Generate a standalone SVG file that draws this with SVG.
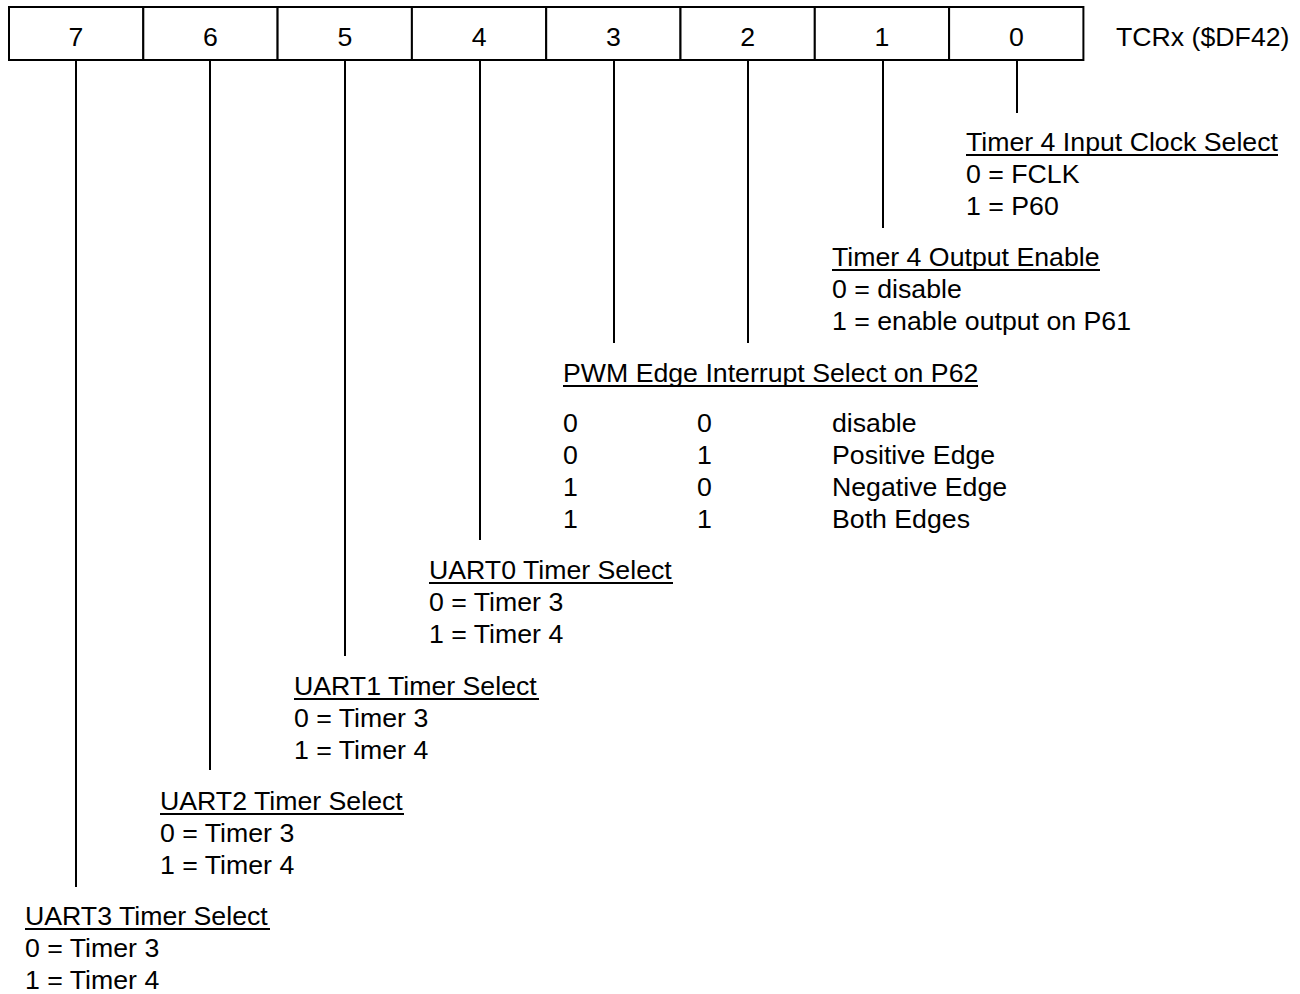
<svg xmlns="http://www.w3.org/2000/svg" width="1300" height="994" viewBox="0 0 1300 994">
<style>
text { font-family: "Liberation Sans", Arial, sans-serif; font-size: 26.7px; fill: #000; }
.c { text-anchor: middle; }
.cell { fill: #fff; stroke: #000; stroke-width: 2; }
.conn line, .ul { stroke: #000; stroke-width: 2; }
</style>
<rect width="1300" height="994" fill="#fff"/>
<g id="register">
  <g id="bit7"><rect class="cell" x="9" y="7" width="134.3" height="53"/><text class="c" x="76" y="46">7</text></g>
  <g id="bit6"><rect class="cell" x="143.3" y="7" width="134.3" height="53"/><text class="c" x="210.5" y="46">6</text></g>
  <g id="bit5"><rect class="cell" x="277.6" y="7" width="134.3" height="53"/><text class="c" x="344.8" y="46">5</text></g>
  <g id="bit4"><rect class="cell" x="411.9" y="7" width="134.3" height="53"/><text class="c" x="479.1" y="46">4</text></g>
  <g id="bit3"><rect class="cell" x="546.2" y="7" width="134.3" height="53"/><text class="c" x="613.4" y="46">3</text></g>
  <g id="bit2"><rect class="cell" x="680.5" y="7" width="134.3" height="53"/><text class="c" x="747.7" y="46">2</text></g>
  <g id="bit1"><rect class="cell" x="814.8" y="7" width="134.3" height="53"/><text class="c" x="882" y="46">1</text></g>
  <g id="bit0"><rect class="cell" x="949.1" y="7" width="134.3" height="53"/><text class="c" x="1016.3" y="46">0</text></g>
  <text id="regname" x="1116" y="46">TCRx ($DF42)</text>
</g>
<g id="connectors" class="conn">
  <line x1="1017" y1="60" x2="1017" y2="113"/>
  <line x1="883" y1="60" x2="883" y2="228"/>
  <line x1="748" y1="60" x2="748" y2="343"/>
  <line x1="614" y1="60" x2="614" y2="343"/>
  <line x1="480" y1="60" x2="480" y2="540"/>
  <line x1="345" y1="60" x2="345" y2="656"/>
  <line x1="210" y1="60" x2="210" y2="770"/>
  <line x1="76" y1="60" x2="76" y2="887"/>
</g>
<g id="desc-bit0">
  <text x="966" y="151">Timer 4 Input Clock Select</text>
  <line class="ul" x1="966" y1="155" x2="1278" y2="155"/>
  <text x="966" y="183">0 = FCLK</text>
  <text x="966" y="215">1 = P60</text>
</g>
<g id="desc-bit1">
  <text x="832" y="266">Timer 4 Output Enable</text>
  <line class="ul" x1="832" y1="270" x2="1100" y2="270"/>
  <text x="832" y="298">0 = disable</text>
  <text x="832" y="330">1 = enable output on P61</text>
</g>
<g id="desc-bit32">
  <text x="563" y="382">PWM Edge Interrupt Select on P62</text>
  <line class="ul" x1="563" y1="386" x2="978" y2="386"/>
  <text x="563" y="432">0</text><text x="697" y="432">0</text><text x="832" y="432">disable</text>
  <text x="563" y="464">0</text><text x="697" y="464">1</text><text x="832" y="464">Positive Edge</text>
  <text x="563" y="496">1</text><text x="697" y="496">0</text><text x="832" y="496">Negative Edge</text>
  <text x="563" y="528">1</text><text x="697" y="528">1</text><text x="832" y="528">Both Edges</text>
</g>
<g id="desc-bit4">
  <text x="429" y="579">UART0 Timer Select</text>
  <line class="ul" x1="429" y1="583" x2="673" y2="583"/>
  <text x="429" y="611">0 = Timer 3</text>
  <text x="429" y="643">1 = Timer 4</text>
</g>
<g id="desc-bit5">
  <text x="294" y="695">UART1 Timer Select</text>
  <line class="ul" x1="294" y1="699" x2="539" y2="699"/>
  <text x="294" y="727">0 = Timer 3</text>
  <text x="294" y="759">1 = Timer 4</text>
</g>
<g id="desc-bit6">
  <text x="160" y="810">UART2 Timer Select</text>
  <line class="ul" x1="160" y1="814" x2="404" y2="814"/>
  <text x="160" y="842">0 = Timer 3</text>
  <text x="160" y="874">1 = Timer 4</text>
</g>
<g id="desc-bit7">
  <text x="25" y="925">UART3 Timer Select</text>
  <line class="ul" x1="25" y1="929" x2="270" y2="929"/>
  <text x="25" y="957">0 = Timer 3</text>
  <text x="25" y="989">1 = Timer 4</text>
</g>
</svg>
